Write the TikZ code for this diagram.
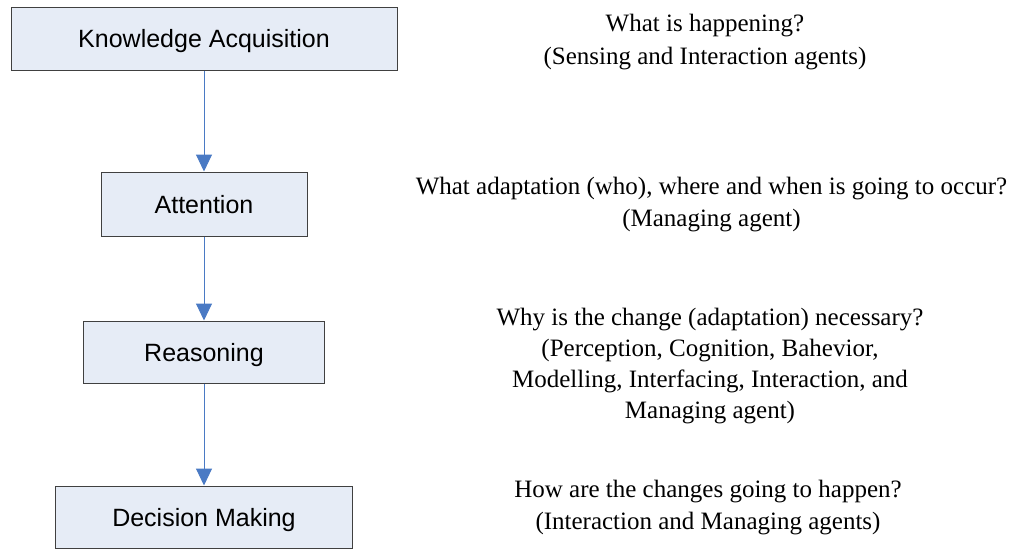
\documentclass[tikz,border=0pt]{standalone}
\usepackage{fontspec}
\setmainfont{Liberation Serif}
\newfontfamily\boxfont{Liberation Sans}
\usetikzlibrary{arrows.meta}
\definecolor{boxfill}{HTML}{E6ECF6}
\definecolor{boxline}{HTML}{404040}
\definecolor{arrowblue}{HTML}{4A7AC4}
\tikzset{
  stage/.style={draw=boxline, fill=boxfill, line width=1pt, inner sep=0pt,
    text depth=0pt, font=\boxfont\fontsize{25}{30}\selectfont},
  note/.style={align=center, inner sep=0pt},
  flow/.style={draw=arrowblue, line width=1pt, -{Triangle[width=16pt,length=17pt]}}
}
\begin{document}
\begin{tikzpicture}[x=1pt,y=-1pt]
\useasboundingbox (0,0) rectangle (1013,549);
\node[stage, minimum width=386pt, minimum height=63pt] (ka) at (204,38.5) {Knowledge Acquisition};
\node[stage, minimum width=206pt, minimum height=64pt] (at) at (204,204) {Attention};
\node[stage, minimum width=241pt, minimum height=62pt] (re) at (204,352) {Reasoning};
\node[stage, minimum width=297pt, minimum height=62pt] (dm) at (204,517) {Decision Making};
\draw[flow] (ka) -- (at);
\draw[flow] (at) -- (re);
\draw[flow] (re) -- (dm);
\node[note, font=\fontsize{25}{33}\selectfont] (n1) at (705,42.5) {What is happening?\\(Sensing and Interaction agents)};
\node[note, font=\fontsize{25}{32}\selectfont] (n2) at (711.5,204.5) {What adaptation (who), where and when is going to occur?\\(Managing agent)};
\node[note, font=\fontsize{25}{30.7}\selectfont] (n3) at (710,366) {Why is the change (adaptation) necessary?\\(Perception, Cognition, Bahevior,\\Modelling, Interfacing, Interaction, and\\Managing agent)};
\node[note, font=\fontsize{25}{32}\selectfont] (n4) at (708,507.5) {How are the changes going to happen?\\(Interaction and Managing agents)};
\end{tikzpicture}
\end{document}
